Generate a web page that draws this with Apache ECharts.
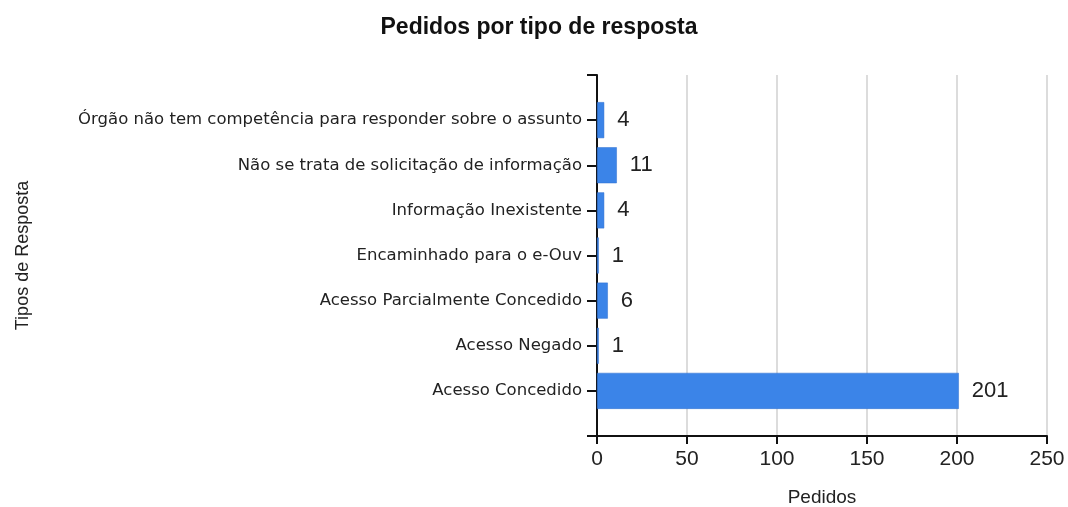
<!DOCTYPE html>
<html><head><meta charset="utf-8">
<script src="https://cdn.jsdelivr.net/npm/echarts@6/dist/echarts.min.js"></script>
<style>html,body{margin:0;padding:0;background:#fff}#c{width:1068px;height:507px}</style>
</head><body><div id="c"></div>
<script>
const categories = [
  'Órgão não tem competência para responder sobre o assunto',
  'Não se trata de solicitação de informação',
  'Informação Inexistente',
  'Encaminhado para o e-Ouv',
  'Acesso Parcialmente Concedido',
  'Acesso Negado',
  'Acesso Concedido'
];
const pedidos = [4, 11, 4, 1, 6, 1, 201];
const xTicks = [0, 50, 100, 150, 200, 250];

// empty slots at both ends so the axis extends half a step beyond the bars
const yData = [''].concat(categories, ['']);
const barData = [null].concat(pedidos, [null]);

const chart = echarts.init(document.getElementById('c'));
chart.setOption({
  animation: false,
  title: {
    text: 'Pedidos por tipo de resposta', left: 534, top: 11, textAlign: 'center',
    textStyle: {fontFamily: 'Liberation Sans, Arial', fontSize: 23, fontWeight: 'bold', color: '#111'}
  },
  grid: {left: 597, right: 21, top: 75, bottom: 71, containLabel: false, outerBoundsMode: 'none'},
  xAxis: {
    type: 'value', min: xTicks[0], max: xTicks[xTicks.length-1], interval: 50,
    name: 'Pedidos', nameLocation: 'middle', nameGap: 52,
    nameTextStyle: {fontFamily: 'Liberation Sans, Arial', fontSize: 19, color: '#222'},
    axisLine: {show: true, onZero: false, lineStyle: {color: '#111', width: 2}},
    axisTick: {show: true, length: 8, lineStyle: {color: '#111', width: 2}},
    axisLabel: {fontFamily: 'Liberation Sans, Arial', fontSize: 21, color: '#222', margin: 13},
    splitLine: {show: true, lineStyle: {color: '#dcdcdc', width: 2}}
  },
  yAxis: {
    type: 'category', data: yData, boundaryGap: false, inverse: true,
    name: 'Tipos de Resposta', nameLocation: 'middle', nameGap: 565, nameRotate: 90,
    nameTextStyle: {fontFamily: 'Liberation Sans, Arial', fontSize: 18, color: '#222'},
    axisLine: {show: true, onZero: false, lineStyle: {color: '#111', width: 2}},
    axisTick: {show: true, length: 10, alignWithLabel: true, interval: 0, lineStyle: {color: '#111', width: 2}},
    axisLabel: {fontFamily: 'DejaVu Sans, Verdana', fontSize: 16.5, color: '#222', margin: 15, interval: 0},
    splitLine: {show: false}
  },
  series: [{
    type: 'bar',
    data: barData,
    barWidth: 36,
    itemStyle: {color: '#3b84e8', borderColor: '#2f6fcf', borderWidth: 0.5},
    label: {show: true, position: 'right', distance: 13, fontFamily: 'Liberation Sans, Arial', fontSize: 22, color: '#222'}
  }]
});
</script></body></html>
